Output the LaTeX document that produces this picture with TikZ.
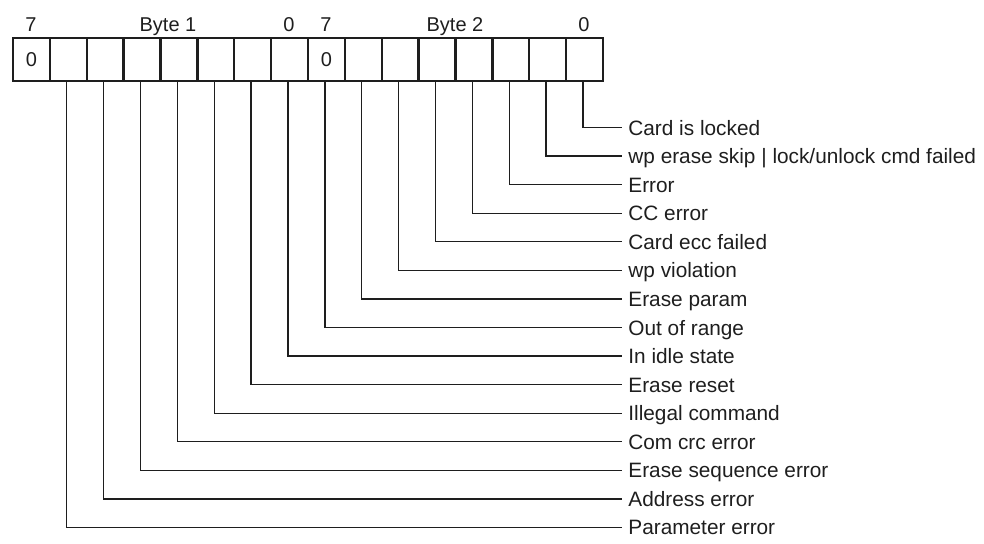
\documentclass[tikz,border=0pt]{standalone}
\usepackage{fontspec}
\setmainfont{Liberation Sans}
\usepackage{xcolor}
\usepackage{tikz}
\usetikzlibrary{positioning}
\definecolor{inkcolor}{HTML}{1E1E1E}
\tikzset{
  bit cell/.style={
    draw=inkcolor,
    line width=1.2pt,
    minimum width=18.45pt,
    minimum height=21.5pt,
    inner sep=0pt,
    outer sep=0pt,
    text=inkcolor,
    font=\fontsize{10}{12}\selectfont
  },
  bit label/.style={
    anchor=base,
    inner sep=0pt,
    text=inkcolor,
    font=\fontsize{10}{12}\selectfont
  },
  flag label/.style={
    anchor=west,
    inner sep=3pt,
    text height=7.5pt,
    text depth=0pt,
    text=inkcolor,
    font=\fontsize{10.4}{12.5}\selectfont
  },
  leader/.style={
    draw=inkcolor,
    line width=0.7pt
  }
}

\begin{document}
\begin{tikzpicture}[x=0.5pt,y=0.5pt]
  \useasboundingbox (0,0) rectangle (984,-543);

  % the two status bytes
  \node[bit cell] (c-0) at (31.45,-59.5) {0};
  \foreach \i in {1,...,7}{
    \node[bit cell] (c-\i) at ({31.45+36.875*\i},-59.5) {};
  }
  \node[bit cell] (c-8) at ({31.45+36.875*8},-59.5) {0};
  \foreach \i in {9,...,15}{
    \node[bit cell] (c-\i) at ({31.45+36.875*\i},-59.5) {};
  }

  \node[bit label] (b1-msb) at (31,-31) {7};
  \node[bit label] (b1-title) at (168,-31) {Byte 1};
  \node[bit label] (b1-lsb) at (289,-31) {0};
  \node[bit label] (b2-msb) at (326,-31) {7};
  \node[bit label] (b2-title) at (455,-31) {Byte 2};
  \node[bit label] (b2-lsb) at (584,-31) {0};

  % flag names and their leaders
  \foreach \i/\txt in {15/Card is locked,
                       14/{wp erase skip | lock/unlock cmd failed},
                       13/Error,
                       12/CC error,
                       11/Card ecc failed,
                       10/wp violation,
                       9/Erase param,
                       8/Out of range,
                       7/In idle state,
                       6/Erase reset,
                       5/Illegal command,
                       4/Com crc error,
                       3/Erase sequence error,
                       2/Address error,
                       1/Parameter error}{
    \node[flag label] (l-\i) at (622,{-(127.5+28.57*(15-\i))}) {\txt};
    \draw[leader] ([xshift=-0.8pt]c-\i.south) |- (l-\i.west);
  }
\end{tikzpicture}
\end{document}
